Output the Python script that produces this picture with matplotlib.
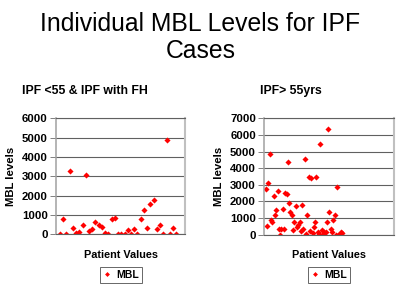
import matplotlib
matplotlib.use('Agg')
import matplotlib.pyplot as plt
import numpy

plt.rcParams['font.family'] = ['Liberation Sans', 'DejaVu Sans']

# MBL values
young_mbl = [0, 810, 0, 3270, 310, 90, 140, 500, 3070, 190, 260, 640, 500, 400, 50, 0,
             810, 840, 30, 0, 0, 240, 0, 260, 30, 790, 1240, 350, 1550, 1760, 260, 500,
             0, 4890, 0, 310, 0]
old_mbl = [2760, 520, 3100, 4860, 890, 770, 2320, 1190, 1490, 2600, 340, 0, 340, 1550,
           340, 2500, 2440, 4350, 1930, 1390, 1190, 300, 750, 1750, 460, 600, 750, 220,
           1810, 320, 4580, 20, 1190, 3470, 240, 3430, 100, 460, 770, 3470, 140, 40,
           5440, 260, 40, 160, 160, 770, 6330, 1370, 320, 160, 870, 1210, 0, 2860, 0,
           20, 140, 80]
young_ticks = [0, 1000, 2000, 3000, 4000, 5000, 6000]
old_ticks = [0, 1000, 2000, 3000, 4000, 5000, 6000, 7000]

W, H = 401, 296
fig = plt.figure(figsize=(W / 100, H / 100), dpi=100)


def px(x0, y0, x1, y1):
    return [x0 / W, 1 - y1 / H, (x1 - x0) / W, (y1 - y0) / H]


def draw_panel(rect, vals, ticks, xmax, subtitle, sub_x, label_x, legend_x):
    ax = fig.add_axes(rect)
    x = numpy.arange(1, len(vals) + 1)
    ax.plot(x, vals, linestyle='none', marker='D', markersize=3.1,
            color='#ff0000', markeredgewidth=0, label='MBL')
    ax.set_xlim(-0.2, xmax)
    ax.set_ylim(ticks[0], ticks[-1])
    ax.set_yticks(ticks)
    ax.set_yticklabels([str(t) for t in ticks], fontsize=8.2, fontweight='bold')
    ax.set_xticks([])
    ax.tick_params(axis='y', length=4, width=0.7, color='#808080', pad=2)
    ax.yaxis.grid(True, color='#606060', linewidth=0.8)
    ax.set_axisbelow(True)
    ax.spines['left'].set_color('#a0a0a0')
    ax.spines['left'].set_linewidth(1.1)
    ax.spines['right'].set_color('#c0c0c0')
    ax.spines['right'].set_linewidth(1.5)
    ax.spines['top'].set_color('#606060')
    ax.spines['top'].set_linewidth(0.8)
    ax.spines['bottom'].set_color('#606060')
    ax.spines['bottom'].set_linewidth(0.8)

    fig.text(label_x / W, 1 - 176 / H, 'MBL levels', rotation=90, ha='center',
             va='center', fontsize=8.2, fontweight='bold')
    fig.text(sub_x / W, 1 - 94.3 / H, subtitle, ha='left', va='baseline',
             fontsize=8.8, fontweight='bold')
    fig.text(legend_x / W, 1 - 258.5 / H, 'Patient Values', ha='center',
             va='baseline', fontsize=7.8, fontweight='bold')
    leg = fig.legend(handles=ax.get_lines(), loc='center',
                     bbox_to_anchor=(legend_x / W, 1 - 275 / H),
                     prop={'size': 7.5, 'weight': 'bold'}, handlelength=0.7,
                     handletextpad=0.6, borderpad=0.25, fancybox=False,
                     markerscale=0.8, borderaxespad=0)
    leg.get_frame().set_edgecolor('#404040')
    leg.get_frame().set_linewidth(0.7)
    return ax


draw_panel(px(56, 118.3, 185, 234.3), young_mbl, young_ticks, 39.7,
           'IPF <55 & IPF with FH', 22, 11, 121)
draw_panel(px(264.3, 118.3, 394, 234.7), old_mbl, old_ticks, 99.8,
           'IPF> 55yrs', 260, 219, 329)

fig.text(200.5 / W, 1 - 31 / H, 'Individual MBL Levels for IPF', ha='center',
         va='baseline', fontsize=17.8)
fig.text(200.5 / W, 1 - 58.3 / H, 'Cases', ha='center', va='baseline', fontsize=17.8)

fig.savefig('out.png', dpi=100)
